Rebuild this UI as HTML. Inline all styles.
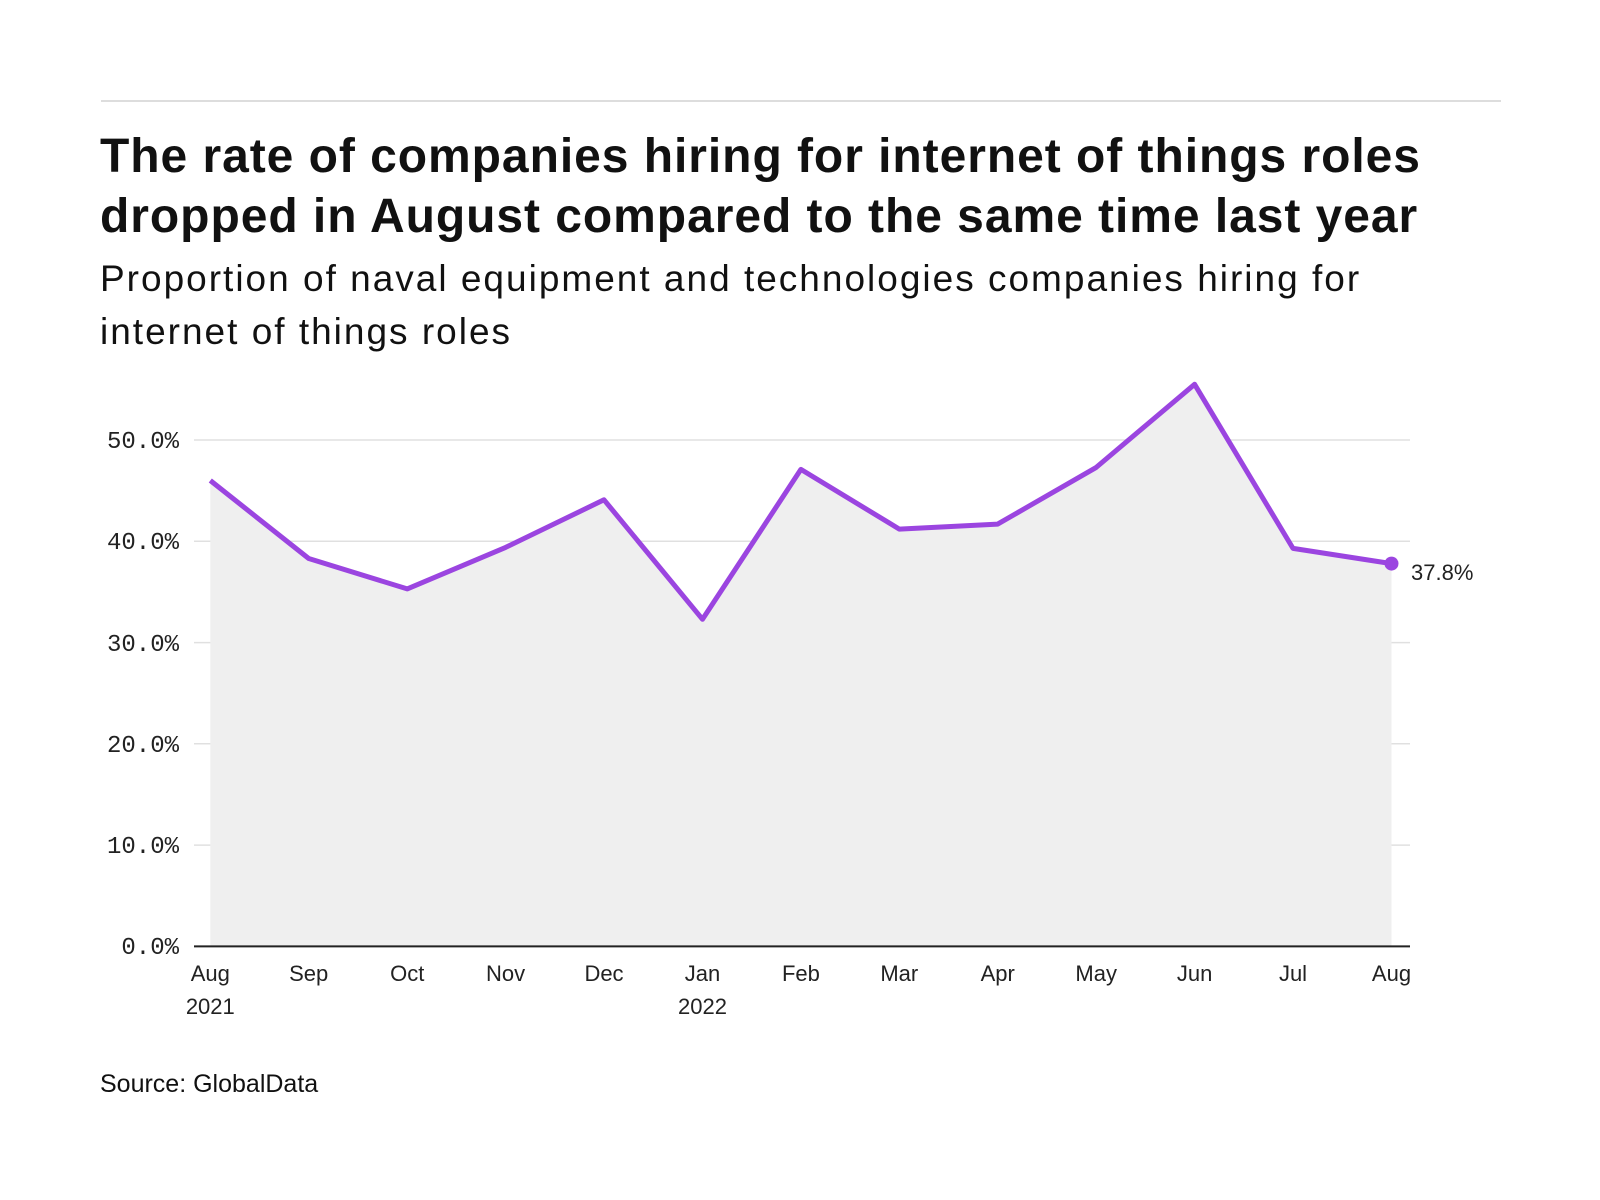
<!DOCTYPE html>
<html><head><meta charset="utf-8"><style>
html,body{margin:0;padding:0;background:#fff;}
body{width:1600px;height:1200px;position:relative;overflow:hidden;font-family:"Liberation Sans","DejaVu Sans",sans-serif;color:#111;}
.rule{position:absolute;left:101px;top:100px;width:1400px;height:2px;background:#ddd;}
.t{position:absolute;left:100px;top:127px;font-size:48px;font-weight:bold;line-height:60px;letter-spacing:0.95px;}
.s{position:absolute;left:100px;top:252px;font-size:37px;line-height:53px;letter-spacing:2px;}
.src{position:absolute;left:100px;top:1070px;font-size:25px;}
</style></head><body>
<div class="rule"></div>
<div class="t">The rate of companies hiring for internet of things roles<br>dropped in August compared to the same time last year</div>
<div class="s">Proportion of naval equipment and technologies companies hiring for<br>internet of things roles</div>
<svg width="1600" height="1200" style="position:absolute;left:0;top:0">
<g stroke="#e0e0e0" stroke-width="1.5">
<line x1="194" x2="1410" y1="440" y2="440"/><line x1="194" x2="1410" y1="541.3" y2="541.3"/>
<line x1="194" x2="1410" y1="642.6" y2="642.6"/><line x1="194" x2="1410" y1="743.8" y2="743.8"/>
<line x1="194" x2="1410" y1="845.1" y2="845.1"/></g>
<polygon fill="#efefef" points="210.3,946.4 210.3,480.5 308.7,558.5 407.2,588.9 505.6,547.4 604,499.8 702.5,619.3 800.9,469.4 899.3,529.1 997.7,524.1 1096.2,467.4 1194.6,384.3 1293,548.4 1391.5,563.6 1391.5,946.4"/>
<line x1="194" x2="1410" y1="946.4" y2="946.4" stroke="#222" stroke-width="2"/>
<polyline fill="none" stroke="#9b45e0" stroke-width="5" stroke-linejoin="round" points="210.3,480.5 308.7,558.5 407.2,588.9 505.6,547.4 604,499.8 702.5,619.3 800.9,469.4 899.3,529.1 997.7,524.1 1096.2,467.4 1194.6,384.3 1293,548.4 1391.5,563.6"/>
<circle cx="1391.5" cy="563.6" r="7" fill="#9b45e0"/>
<text x="1411" y="580" font-size="22" font-family="Liberation Sans,sans-serif" fill="#222">37.8%</text>
<g font-family="Liberation Mono,DejaVu Sans Mono,monospace" font-size="24" fill="#222" text-anchor="end">
<text x="179" y="448">50.0%</text><text x="179" y="549">40.0%</text><text x="179" y="651">30.0%</text>
<text x="179" y="752">20.0%</text><text x="179" y="853">10.0%</text><text x="179" y="954">0.0%</text></g>
<g font-family="Liberation Sans,sans-serif" font-size="22" fill="#222" text-anchor="middle">
<text x="210.3" y="981">Aug</text><text x="210.3" y="1014">2021</text><text x="308.7" y="981">Sep</text>
<text x="407.2" y="981">Oct</text><text x="505.6" y="981">Nov</text><text x="604" y="981">Dec</text>
<text x="702.5" y="981">Jan</text><text x="702.5" y="1014">2022</text><text x="800.9" y="981">Feb</text>
<text x="899.3" y="981">Mar</text><text x="997.7" y="981">Apr</text><text x="1096.2" y="981">May</text>
<text x="1194.6" y="981">Jun</text><text x="1293" y="981">Jul</text><text x="1391.5" y="981">Aug</text></g>
</svg>
<div class="src">Source: GlobalData</div>
</body></html>
